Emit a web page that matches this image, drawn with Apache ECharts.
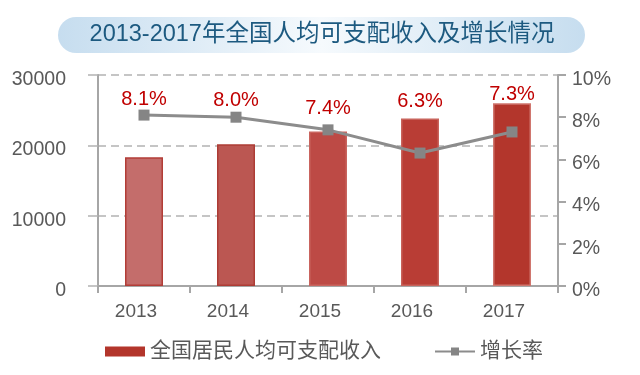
<!DOCTYPE html>
<html>
<head>
<meta charset="utf-8">
<script src="https://cdn.jsdelivr.net/npm/echarts@6/dist/echarts.min.js"></script>
<style>
html,body{margin:0;padding:0;background:#fff;}
#main{width:640px;height:375px;}
</style>
</head>
<body>
<div id="main"></div>
<script>
// ---- data ----
var titleText = '2013-2017年全国人均可支配收入及增长情况';
var years = ['2013', '2014', '2015', '2016', '2017'];
var income = [18311, 20167, 21966, 23821, 25974];
var growth = [8.1, 8.0, 7.4, 6.3, 7.3];
var incomeName = '全国居民人均可支配收入';
var growthName = '增长率';
var leftTicks = [0, 10000, 20000, 30000];
var rightTicks = [0, 2, 4, 6, 8, 10];

// ---- styles ----
var barFills = ['#c46d6b', '#bb5752', '#bd4a45', '#b93d35', '#b3362c'];
var barBorders = ['#b23d37', '#ad3c35', '#c9645e', '#c8635b', '#d0766e'];
var labelDistances = [0, 1, 6, 36, 22];
var font = '"Liberation Sans", Arial, "Noto Sans CJK SC", sans-serif';
var gray = '#595959';
var axisGray = '#a6a6a6';

var chart = echarts.init(document.getElementById('main'), null, {renderer: 'canvas'});

var barData = income.map(function (v, i) {
  return {value: v, itemStyle: {color: barFills[i], borderColor: barBorders[i], borderWidth: 1.5}};
});
var lineData = growth.map(function (v, i) {
  return {value: v, label: {distance: labelDistances[i]}};
});

var tickRich = {v: {fontSize: 19.5, color: gray, fontFamily: font, padding: [9, 0, 0, 0]}};

var option = {
  animation: false,
  textStyle: {fontFamily: font},
  graphic: [{
    type: 'group',
    children: [{
      type: 'rect',
      shape: {x: 58, y: 17, width: 527, height: 36, r: 18},
      style: {
        fill: new echarts.graphic.LinearGradient(0, 0, 1, 0, [
          {offset: 0, color: '#c6ddef'},
          {offset: 0.5, color: '#f6fafd'},
          {offset: 1, color: '#c6ddef'}
        ])
      }
    }, {
      type: 'text',
      x: 322,
      y: 35,
      style: {
        text: titleText,
        fill: '#1d5a80',
        font: '23.5px ' + font,
        align: 'center',
        verticalAlign: 'middle'
      }
    }]
  }],
  legend: {
    left: 100,
    top: 336,
    itemWidth: 40,
    itemHeight: 10,
    itemGap: 53,
    textStyle: {fontSize: 21, color: gray, fontFamily: font},
    data: [
      {name: incomeName, icon: 'rect', itemStyle: {color: '#b3352b', borderWidth: 0}},
      {name: growthName}
    ]
  },
  grid: {left: 98, right: 82, top: 75, bottom: 89, containLabel: false},
  xAxis: {
    type: 'category',
    data: years,
    axisLine: {show: true, lineStyle: {color: axisGray, width: 2}},
    axisTick: {show: true, length: 7, lineStyle: {color: axisGray, width: 2}},
    axisLabel: {color: gray, fontSize: 19, margin: 16, padding: [0, 16, 0, 0], fontFamily: font}
  },
  yAxis: [{
    type: 'value',
    min: leftTicks[0],
    max: leftTicks[leftTicks.length - 1],
    interval: leftTicks[1] - leftTicks[0],
    axisLine: {show: true, lineStyle: {color: axisGray, width: 2}},
    axisTick: {show: true, length: 10, lineStyle: {color: '#b3b3b3', width: 1.5}},
    axisLabel: {
      margin: 32,
      formatter: function (v) { return '{v|' + String(v) + '}'; },
      rich: tickRich
    },
    splitLine: {show: true, lineStyle: {color: '#b3b3b3', width: 1.5, type: [8, 5]}}
  }, {
    type: 'value',
    position: 'right',
    min: rightTicks[0],
    max: rightTicks[rightTicks.length - 1],
    interval: rightTicks[1] - rightTicks[0],
    axisLine: {show: true, lineStyle: {color: axisGray, width: 2}},
    axisTick: {show: true, length: 8, lineStyle: {color: axisGray, width: 2}},
    axisLabel: {
      margin: 14,
      formatter: function (v) { return '{v|' + String(v) + '%}'; },
      rich: tickRich
    },
    splitLine: {show: false}
  }],
  series: [{
    name: incomeName,
    type: 'bar',
    yAxisIndex: 0,
    barWidth: 38,
    itemStyle: {color: '#b3352b'},
    data: barData
  }, {
    name: growthName,
    type: 'line',
    yAxisIndex: 1,
    z: 5,
    symbol: 'rect',
    symbolSize: 11,
    lineStyle: {color: '#8c8c8c', width: 3},
    itemStyle: {color: '#858585'},
    label: {
      show: true,
      position: 'top',
      color: '#c00000',
      fontSize: 20,
      fontFamily: font,
      formatter: function (p) { return p.value.toFixed(1) + '%'; }
    },
    data: lineData
  }]
};
chart.setOption(option);
</script>
</body>
</html>
